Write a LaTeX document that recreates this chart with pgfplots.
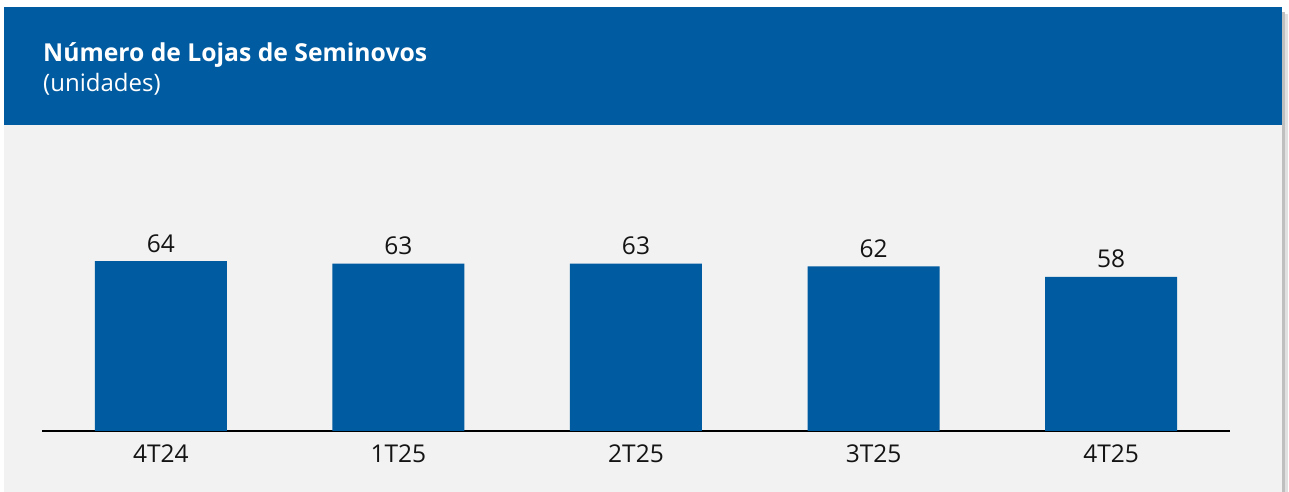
\documentclass[border=0pt]{standalone}
\usepackage{pgfplots}
\pgfplotsset{compat=1.18}
\usepackage{fontspec}
\setmainfont{Open Sans}
\definecolor{hdrblue}{RGB}{0,91,160}
\definecolor{panelgray}{RGB}{242,242,242}
\definecolor{txt}{RGB}{20,20,20}
\begin{document}
\begin{tikzpicture}[x=1pt,y=1pt]
\useasboundingbox (0,0) rectangle (1289,492);
\fill[white] (0,0) rectangle (1289,492);
\fill[black!25] (1282,0) rectangle (1285,480);
\fill[black!12] (1285,0) rectangle (1288,478);
\fill[panelgray] (4,0) rectangle (1282,367);
\fill[hdrblue] (4,367) rectangle (1282,485);
\node[anchor=base west, inner sep=0pt, text=white, font=\fontsize{24.7}{29}\selectfont\bfseries] at (43,430) {Número de Lojas de Seminovos};
\node[anchor=base west, inner sep=0pt, text=white, font=\fontsize{24}{29}\selectfont] at (43,400) {(unidades)};
\begin{axis}[
  at={(42pt,61pt)}, anchor=south west,
  scale only axis, width=1188pt, height=185.9pt,
  xmin=-0.5, xmax=4.5, ymin=0, ymax=70,
  axis x line=bottom, axis y line=none,
  x axis line style={-, line width=1.5pt, black},
  xtick=data, xticklabels={4T24,1T25,2T25,3T25,4T25},
  major tick length=0pt,
  /pgf/number format/assume math mode=true,
  xticklabel style={anchor=base, yshift=-32pt, inner sep=0pt, text=txt, font=\fontsize{24.5}{29}\selectfont},
  ybar, bar width=132pt,
  clip=false,
  nodes near coords,
  every node near coord/.append style={anchor=base, yshift=9pt, inner sep=0pt, text=txt, font=\fontsize{24.5}{29}\selectfont},
]
\addplot[fill=hdrblue, draw=none] coordinates {(0,64) (1,63) (2,63) (3,62) (4,58)};
\end{axis}
\end{tikzpicture}
\end{document}
